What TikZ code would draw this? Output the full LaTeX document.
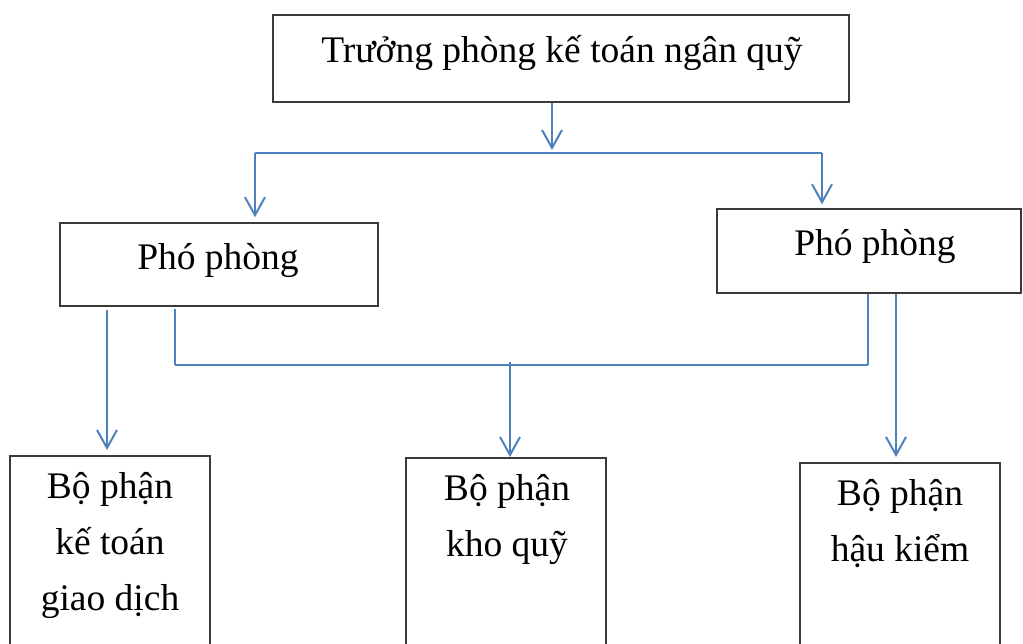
\documentclass[tikz,border=0pt]{standalone}
\usepackage{fontspec}
\setmainfont{Liberation Serif}
\usetikzlibrary{arrows.meta}
\definecolor{conn}{HTML}{4F81BD}
\definecolor{boxline}{HTML}{3A3A3A}
\tikzset{
  box/.style={draw=boxline, line width=1.5pt, rectangle, inner sep=0pt},
  lbl/.style={inner sep=0pt, align=center, font=\fontsize{37.5}{56}\selectfont},
  wire/.style={draw=conn, line width=2pt},
  arr/.style={wire, -{Straight Barb[length=18pt,width=20pt,line width=2pt]}},
}
\begin{document}
\begin{tikzpicture}[x=1pt,y=-1pt]
\useasboundingbox (0,0) rectangle (1023,643);
\clip (0,0) rectangle (1023,643);
% boxes
\node[box, minimum width=576pt, minimum height=87pt] (top) at (561,58.5) {};
\node[box, minimum width=318pt, minimum height=83pt] (pl) at (219,264.5) {};
\node[box, minimum width=304pt, minimum height=84pt] (pr) at (869,251) {};
\node[box, minimum width=200pt, minimum height=250pt, anchor=north] (bA) at (110,455) {};
\node[box, minimum width=200pt, minimum height=250pt, anchor=north] (bB) at (506,457) {};
\node[box, minimum width=200pt, minimum height=250pt, anchor=north] (bC) at (900,462) {};
% texts
\node[lbl, anchor=base] (ttop) at (562,62) {Trưởng phòng kế toán ngân quỹ};
\node[lbl, anchor=base] (tpl) at (218,269) {Phó phòng};
\node[lbl, anchor=base] (tpr) at (875,255) {Phó phòng};
\node[lbl, anchor=north] (tbA) at (110,458) {\rule{0pt}{40pt}Bộ phận\\kế toán\\giao dịch};
\node[lbl, anchor=north] (tbB) at (507,460) {\rule{0pt}{40pt}Bộ phận\\kho quỹ};
\node[lbl, anchor=north] (tbC) at (900,465) {\rule{0pt}{40pt}Bộ phận\\hậu kiểm};
% junction coordinates
\coordinate (j1) at (552,150);
\coordinate (bl) at (255,153);
\coordinate (br) at (822,153);
\coordinate (xa) at (107,310);
\coordinate (j2) at (175,365);
\coordinate (j3) at (868,365);
\coordinate (j4) at (510,362);
\coordinate (xc) at (896,293);
% connectors
\draw[arr] (top.south -| j1) -- (j1);
\draw[wire] (bl) -- (br);
\draw[arr, shorten >=5pt] (bl) -- (pl.north -| bl);
\draw[arr, shorten >=4pt] (br) -- (pr.north -| br);
\draw[arr, shorten >=5pt] (xa) -- (bA.north -| xa);
\draw[wire] (pl.south -| j2) ++(0,2) -- (j2);
\draw[wire, line width=2.6pt] (j2) -- (j3);
\draw[wire] (pr.south -| j3) -- (j3);
\draw[arr] (j4) -- (bB.north -| j4);
\draw[arr, shorten >=5pt] (pr.south -| xc) -- (bC.north -| xc);
\end{tikzpicture}
\end{document}
